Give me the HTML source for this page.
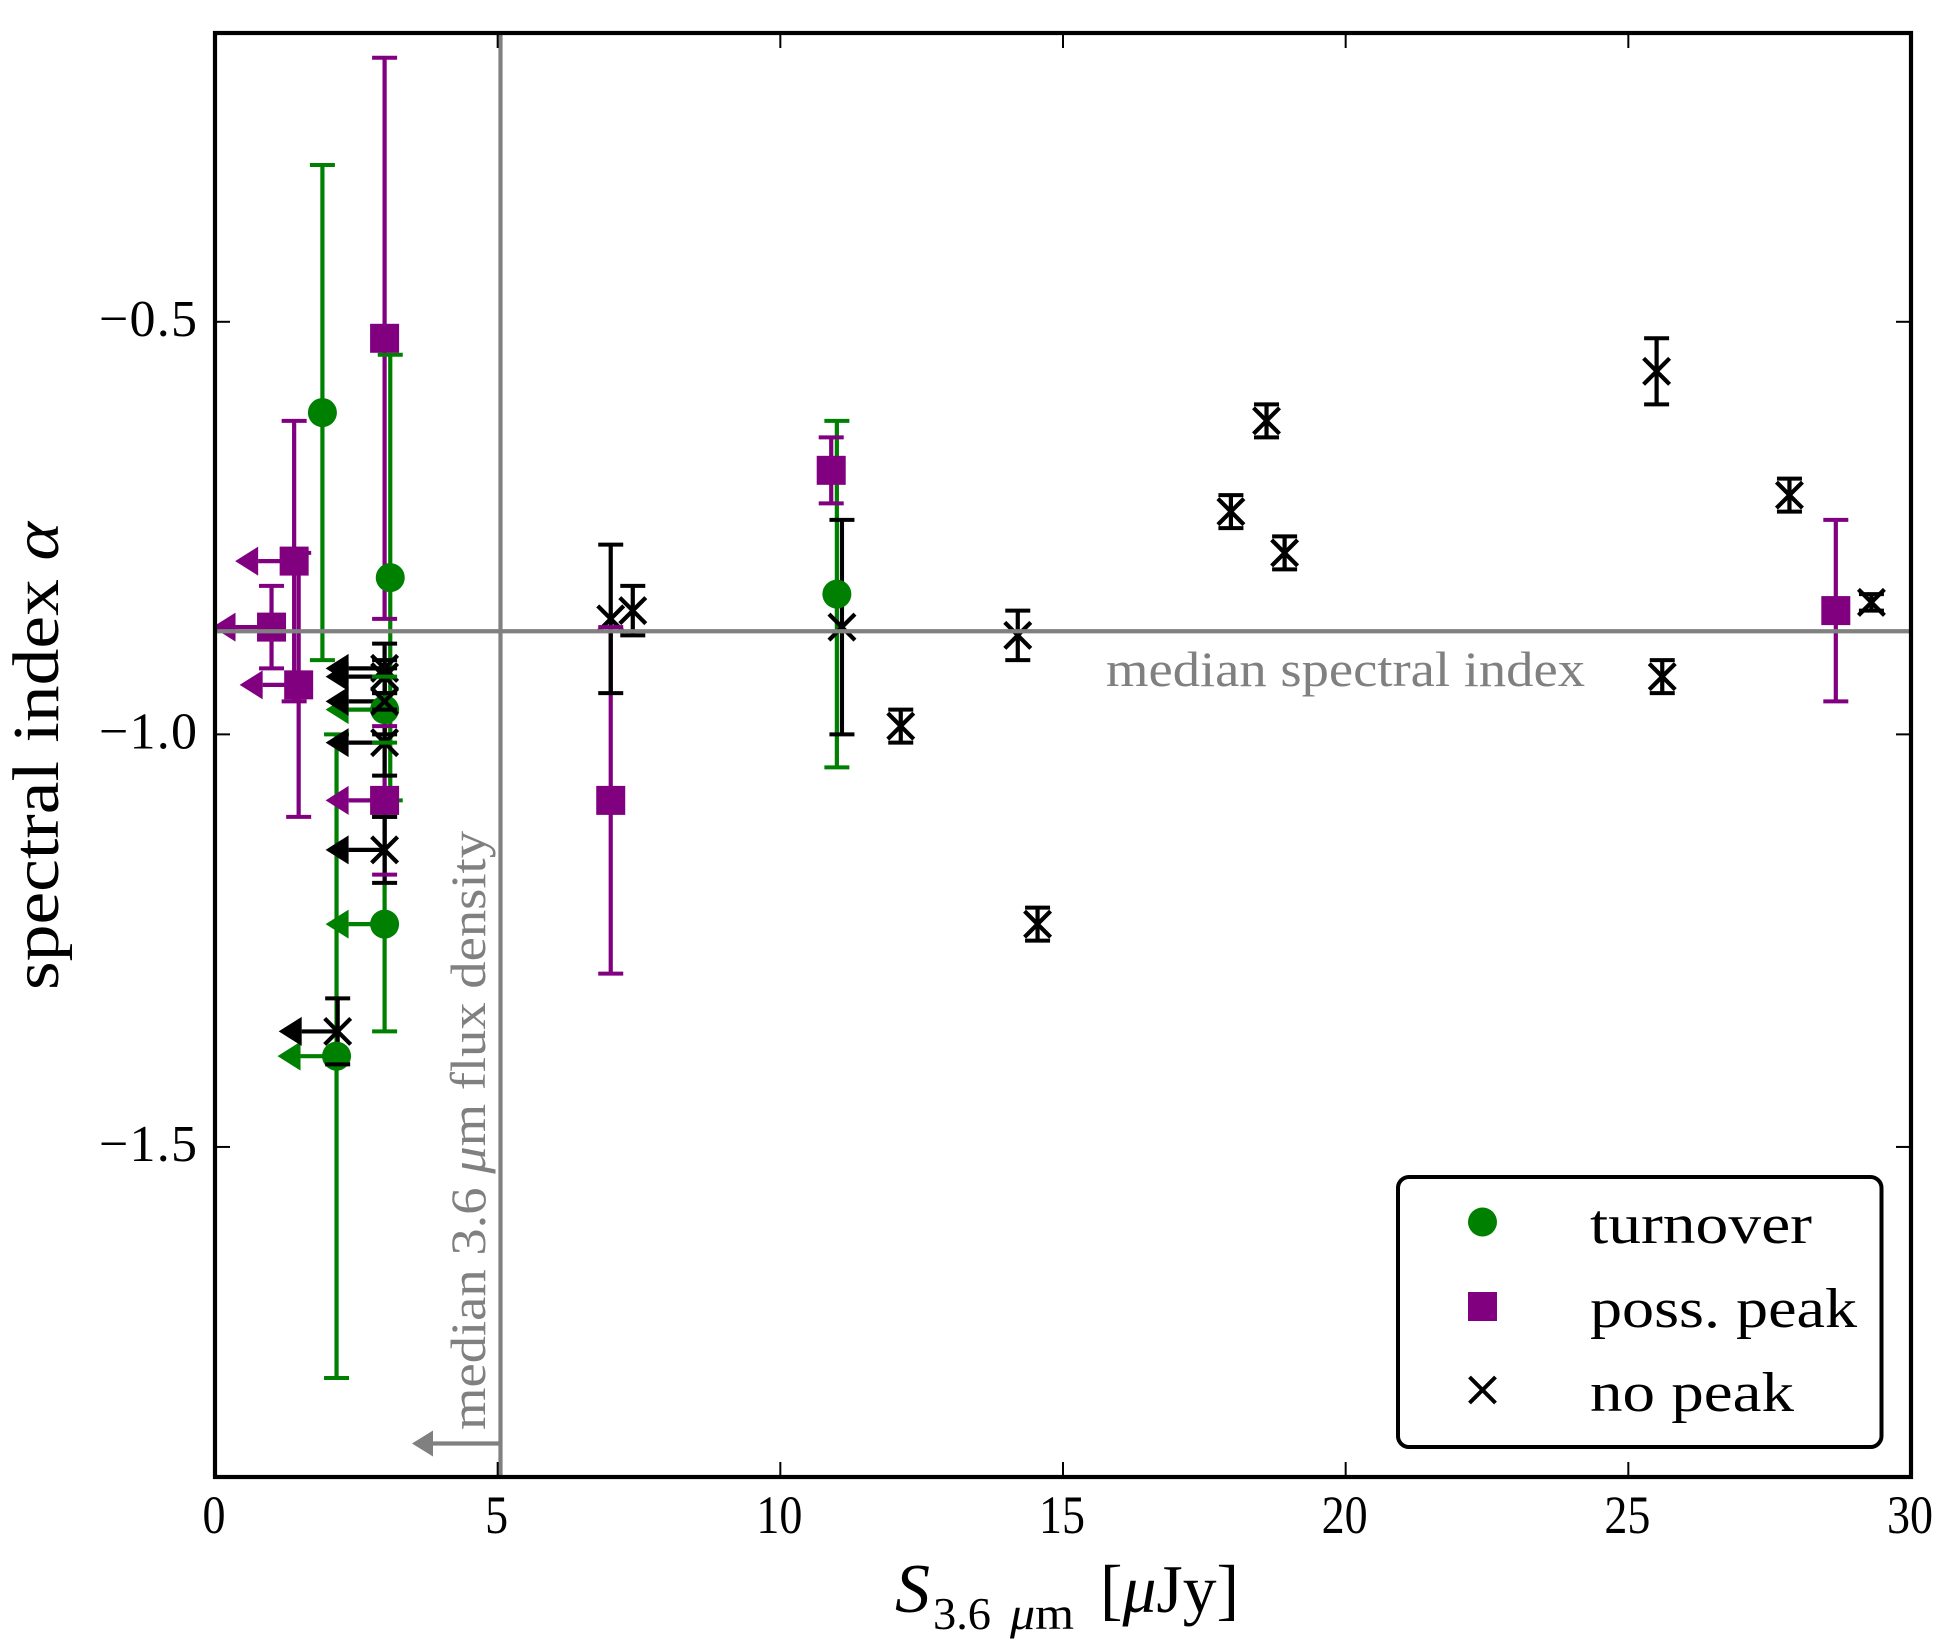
<!DOCTYPE html>
<html lang="en">
<head>
<meta charset="utf-8">
<title>Spectral index vs flux density</title>
<style>
html,body{margin:0;padding:0;background:#fff;}
svg{display:block;}
text{font-family:"Liberation Serif",serif;}
</style>
</head>
<body>
<svg id="chart" xmlns="http://www.w3.org/2000/svg" width="1950" height="1650" viewBox="0 0 1950 1650">
  <rect width="1950" height="1650" fill="#fff"/>
  <defs><clipPath id="plot-clip"><rect x="215" y="33" width="1696" height="1444"/></clipPath></defs>
  <g id="plot" clip-path="url(#plot-clip)">
    <g id="layer-bars"></g>
    <g id="layer-green-markers"></g>
    <g id="layer-black-markers"></g>
    <g id="layer-green-caps"></g>
    <g id="layer-purple-caps"></g>
    <g id="layer-purple-markers"></g>
    <g id="layer-black-caps"></g>
    <g id="layer-heads"></g>
    <g id="layer-ref"></g>
  </g>
  <g id="layer-ticks"></g>
  <rect x="215" y="33" width="1696" height="1444" fill="none" stroke="#000" stroke-width="4.2"/>
  <g id="layer-labels"></g>

  <text x="1106" y="686" font-size="50" fill="#808080" textLength="479" lengthAdjust="spacingAndGlyphs">median spectral index</text>
  <text transform="translate(485,1430) rotate(-90)" font-size="50" fill="#808080" textLength="599" lengthAdjust="spacingAndGlyphs">median 3.6 <tspan font-style="italic">μ</tspan>m flux density</text>

  <g>
    <text x="895" y="1612" font-size="70" font-style="italic">S</text>
    <text x="933" y="1629" font-size="46" textLength="58" lengthAdjust="spacingAndGlyphs">3.6</text>
    <text x="1010" y="1629" font-size="46" textLength="64" lengthAdjust="spacingAndGlyphs"><tspan font-style="italic">μ</tspan>m</text>
    <text x="1100" y="1612" font-size="68" textLength="139" lengthAdjust="spacingAndGlyphs">[<tspan font-style="italic">μ</tspan>Jy]</text>
  </g>
  <text transform="translate(58,990) rotate(-90)" font-size="66" textLength="468" lengthAdjust="spacingAndGlyphs">spectral index <tspan font-style="italic">α</tspan></text>

  <g>
    <rect x="1398" y="1177" width="483.5" height="270" rx="11" ry="11" fill="#fff" stroke="#000" stroke-width="4"/>
    <circle cx="1482.5" cy="1222" r="14.5" fill="#008000"/>
    <rect x="1468" y="1292" width="29" height="29" fill="#800080"/>
    <path d="M1469.5 1377 L1495.5 1403 M1495.5 1377 L1469.5 1403" stroke="#000" stroke-width="4" fill="none"/>
    <text x="1590" y="1243" font-size="56" textLength="222" lengthAdjust="spacingAndGlyphs">turnover</text>
    <text x="1590" y="1327" font-size="56" textLength="267" lengthAdjust="spacingAndGlyphs">poss. peak</text>
    <text x="1590" y="1411" font-size="56" textLength="204" lengthAdjust="spacingAndGlyphs">no peak</text>
  </g>
</svg>
<script>
// ---- chart data ----
const xTicks = [0, 5, 10, 15, 20, 25, 30];
const xTickLabels = ['0', '5', '10', '15', '20', '25', '30'];
const yTicks = [-0.5, -1.0, -1.5];
const yTickLabels = ['\u22120.5', '\u22121.0', '\u22121.5'];

const medianFlux = 5.05;
const medianIndex = -0.875;

const turnoverFlux = [1.9, 3.1, 3.0, 2.15, 11.0, 3.0];
const turnoverIndex = [-0.61, -0.81, -1.23, -1.39, -0.83, -0.97];
const turnoverErr = [0.30, 0.27, 0.13, 0.39, 0.21, 0.04];
const turnoverIsLimit = [0, 0, 1, 1, 0, 1];

const possPeakFlux = [3.0, 1.4, 1.48, 1.0, 3.0, 7.0, 10.9, 28.67];
const possPeakIndex = [-0.52, -0.79, -0.94, -0.87, -1.08, -1.08, -0.68, -0.85];
const possPeakErr = [0.34, 0.17, 0.16, 0.05, 0.09, 0.21, 0.04, 0.11];
const possPeakIsLimit = [0, 1, 1, 1, 1, 0, 0, 0];

const noPeakFlux = [3.0, 3.0, 3.0, 3.0, 3.0, 2.17, 7.0, 7.39, 11.09, 12.13, 14.2, 14.55, 17.97, 18.6, 18.92, 25.5, 25.6, 27.85, 29.3];
const noPeakIndex = [-0.92, -0.93, -0.96, -1.01, -1.14, -1.36, -0.86, -0.85, -0.87, -0.99, -0.88, -1.23, -0.73, -0.62, -0.78, -0.56, -0.93, -0.71, -0.84];
const noPeakErr = [0.03, 0.02, 0.04, 0.04, 0.04, 0.04, 0.09, 0.03, 0.13, 0.02, 0.03, 0.02, 0.02, 0.02, 0.02, 0.04, 0.02, 0.02, 0.01];
const noPeakIsLimit = [1, 1, 1, 1, 1, 1, 0, 0, 0, 0, 0, 0, 0, 0, 0, 0, 0, 0, 0];

// ---- axis functions ----
const X_MIN = 0, X_MAX = 30, Y_TOP = -0.15, Y_BOTTOM = -1.9;
const LEFT = 215, RIGHT = 1911, TOP = 33, BOTTOM = 1477;
function xScale(v) { return LEFT + (v - X_MIN) / (X_MAX - X_MIN) * (RIGHT - LEFT); }
function yScale(v) { return TOP + (Y_TOP - v) / (Y_TOP - Y_BOTTOM) * (BOTTOM - TOP); }

const NS = 'http://www.w3.org/2000/svg';
function mk(tag, parentId) {
  const el = document.createElementNS(NS, tag);
  document.getElementById(parentId).appendChild(el);
  return el;
}
function line(parentId, x1, y1, x2, y2, color, width) {
  const el = mk('line', parentId);
  el.setAttribute('x1', x1);
  el.setAttribute('y1', y1);
  el.setAttribute('x2', x2);
  el.setAttribute('y2', y2);
  el.setAttribute('stroke', color);
  el.setAttribute('stroke-width', width);
  return el;
}

const CAP_HALF = 12.5, BAR_W = 4.2, CAP_W = 4, MARK_HALF = 14.5, CROSS_HALF = 13;
const ARROW_LEN = 59, HEAD_LEN = 23, HEAD_HALF = 14.5;

function drawSeries(name, color, xs, ys, errs, limits, capLayer, markerLayer, shape) {
  for (let i = 0; i < xs.length; i++) {
    const cx = xScale(xs[i]);
    const cy = yScale(ys[i]);
    const yUp = yScale(ys[i] + errs[i]);
    const yLo = yScale(ys[i] - errs[i]);

    const bar = line('layer-bars', cx, yUp, cx, yLo, color, BAR_W);
    
    

    const capTop = line(capLayer, cx - CAP_HALF, yUp, cx + CAP_HALF, yUp, color, CAP_W);
    
    

    const capBottom = line(capLayer, cx - CAP_HALF, yLo, cx + CAP_HALF, yLo, color, CAP_W);
    
    

    if (limits[i]) {
      const shaft = line('layer-bars', cx, cy, cx - ARROW_LEN + HEAD_LEN, cy, color, BAR_W);
      
      

      const head = mk('path', 'layer-heads');
      head.setAttribute('d', 'M' + (cx - ARROW_LEN) + ' ' + cy + ' L' + (cx - ARROW_LEN + HEAD_LEN) + ' ' + (cy - HEAD_HALF) + ' L' + (cx - ARROW_LEN + HEAD_LEN) + ' ' + (cy + HEAD_HALF) + ' Z');
      head.setAttribute('fill', color);
      
      
    }

    let marker;
    if (shape === 'circle') {
      marker = mk('circle', markerLayer);
      marker.setAttribute('cx', cx);
      marker.setAttribute('cy', cy);
      marker.setAttribute('r', MARK_HALF);
      marker.setAttribute('fill', color);
    } else if (shape === 'square') {
      marker = mk('rect', markerLayer);
      marker.setAttribute('x', cx - MARK_HALF);
      marker.setAttribute('y', cy - MARK_HALF);
      marker.setAttribute('width', MARK_HALF * 2);
      marker.setAttribute('height', MARK_HALF * 2);
      marker.setAttribute('fill', color);
    } else {
      marker = mk('path', markerLayer);
      marker.setAttribute('d', 'M' + (cx - CROSS_HALF) + ' ' + (cy - CROSS_HALF) + ' L' + (cx + CROSS_HALF) + ' ' + (cy + CROSS_HALF) + ' M' + (cx + CROSS_HALF) + ' ' + (cy - CROSS_HALF) + ' L' + (cx - CROSS_HALF) + ' ' + (cy + CROSS_HALF));
      marker.setAttribute('stroke', color);
      marker.setAttribute('stroke-width', BAR_W);
      marker.setAttribute('fill', 'none');
    }
    
    
  }
}

drawSeries('turnover', '#008000', turnoverFlux, turnoverIndex, turnoverErr, turnoverIsLimit, 'layer-green-caps', 'layer-green-markers', 'circle');
drawSeries('poss-peak', '#800080', possPeakFlux, possPeakIndex, possPeakErr, possPeakIsLimit, 'layer-purple-caps', 'layer-purple-markers', 'square');
drawSeries('no-peak', '#000000', noPeakFlux, noPeakIndex, noPeakErr, noPeakIsLimit, 'layer-black-caps', 'layer-black-markers', 'cross');

// ---- reference lines ----
const vRef = line('layer-ref', xScale(medianFlux), TOP, xScale(medianFlux), BOTTOM, '#808080', 4.2);



const hRef = line('layer-ref', LEFT, yScale(medianIndex), RIGHT, yScale(medianIndex), '#808080', 4.2);



const refShaft = line('layer-ref', xScale(medianFlux), 1443.5, 430, 1443.5, '#808080', 4.2);



const refHead = mk('path', 'layer-ref');
refHead.setAttribute('d', 'M412 1443.5 L433 1430.5 L433 1456.5 Z');
refHead.setAttribute('fill', '#808080');



// ---- ticks and tick labels ----
const TICK_LEN = 15;
xTicks.forEach(function (t, i) {
  const px = xScale(t);
  const b = line('layer-ticks', px, BOTTOM, px, BOTTOM - TICK_LEN, '#000', 2);
  
  
  const u = line('layer-ticks', px, TOP, px, TOP + TICK_LEN, '#000', 2);
  
  

  const label = mk('text', 'layer-labels');
  label.setAttribute('x', px - 1);
  label.setAttribute('y', 1533);
  label.setAttribute('font-size', '54');
  label.setAttribute('text-anchor', 'middle');
  label.setAttribute('textLength', xTickLabels[i].length * 23);
  label.setAttribute('lengthAdjust', 'spacingAndGlyphs');
  label.textContent = xTickLabels[i];
  
  
});
yTicks.forEach(function (t, i) {
  const py = yScale(t);
  const l = line('layer-ticks', LEFT, py, LEFT + TICK_LEN, py, '#000', 2);
  
  
  const r = line('layer-ticks', RIGHT, py, RIGHT - TICK_LEN, py, '#000', 2);
  
  

  const label = mk('text', 'layer-labels');
  label.setAttribute('x', 99);
  label.setAttribute('y', py + 14);
  label.setAttribute('font-size', '52');
  label.setAttribute('textLength', '98');
  label.setAttribute('lengthAdjust', 'spacing');
  label.textContent = yTickLabels[i];
  
  
});
</script>
</body>
</html>
